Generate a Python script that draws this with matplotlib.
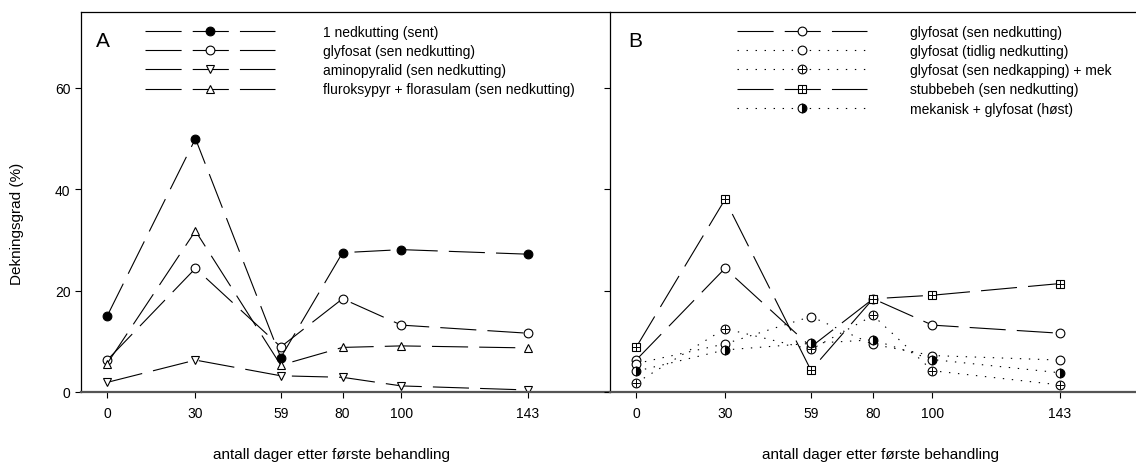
import numpy as np
import matplotlib
matplotlib.use("Agg")
import matplotlib.pyplot as plt
from matplotlib.legend_handler import HandlerTuple

plt.rcParams['font.family'] = ['Liberation Sans', 'DejaVu Sans']
plt.rcParams['lines.scale_dashes'] = False

# days after first treatment
days = [0, 30, 59, 80, 100, 143]
day_labels = ['0', '30', '59', '80', '100', '143']

# panel A
nedkutting_sent = [15.0, 50.0, 6.8, 27.5, 28.1, 27.2]
glyfosat_sen = [6.3, 24.4, 8.9, 18.4, 13.2, 11.6]
aminopyralid = [1.9, 6.3, 3.2, 2.9, 1.2, 0.4]
fluroksypyr = [5.6, 31.8, 5.3, 8.8, 9.1, 8.7]

# panel B
glyfosat_tidlig = [5.6, 9.5, 14.9, 9.4, 7.2, 6.3]
glyfosat_mek = [1.8, 12.5, 8.4, 15.1, 4.2, 1.4]
stubbebeh = [8.8, 38.0, 4.3, 18.4, 19.1, 21.4]
mekanisk_host = [4.1, 8.3, 9.6, 10.3, 6.4, 3.8]

labels_a = ['1 nedkutting (sent)', 'glyfosat (sen nedkutting)',
            'aminopyralid (sen nedkutting)',
            'fluroksypyr + florasulam (sen nedkutting)']
labels_b = ['glyfosat (sen nedkutting)', 'glyfosat (tidlig nedkutting)',
            'glyfosat (sen nedkapping) + mek', 'stubbebeh (sen nedkutting)',
            'mekanisk + glyfosat (høst)']

W, H = 1136, 464
fig = plt.figure(figsize=(W / 100, H / 100), dpi=100)

ax_a = fig.add_axes([81 / W, 1 - 393 / H, 529 / W, 380 / H])
ax_b = fig.add_axes([610 / W, 1 - 393 / H, 526 / W, 380 / H])

dash = (0, (26, 8))
dots = (0, (1, 5.5))
lw = 0.8
ms = 6.3


def style_axes(ax, xlim):
    ax.set_xlim(*xlim)
    ax.set_ylim(0, 75)
    ax.set_xticks(days)
    ax.set_xticklabels(day_labels)
    ax.set_yticks([0, 20, 40, 60])
    ax.tick_params(direction='out', length=4, width=0.8, labelsize=10)
    ax.tick_params(axis='x', pad=6)
    ax.spines['bottom'].set_color('#555555')
    ax.spines['bottom'].set_linewidth(1.6)
    for s in ['left', 'top', 'right']:
        ax.spines[s].set_linewidth(0.9)
    ax.set_xlabel('antall dager etter første behandling', fontsize=11)
    ax.patch.set_alpha(0)


#########################################
# Panel A
#########################################
a1, = ax_a.plot(days, nedkutting_sent, linestyle=dash, color='black', lw=lw,
                marker='o', ms=ms, mfc='black', mec='black', mew=0.8)
a2, = ax_a.plot(days, glyfosat_sen, linestyle=dash, color='black', lw=lw,
                marker='o', ms=ms, mfc='white', mec='black', mew=0.8)
a3, = ax_a.plot(days, aminopyralid, linestyle=dash, color='black', lw=lw,
                marker='v', ms=ms, mfc='white', mec='black', mew=0.8)
a4, = ax_a.plot(days, fluroksypyr, linestyle=dash, color='black', lw=lw,
                marker='^', ms=ms, mfc='white', mec='black', mew=0.8)

style_axes(ax_a, (-8.9, 170.9))
ax_a.spines['right'].set_visible(False)
ax_a.set_ylabel('Dekningsgrad (%)', fontsize=11)
ax_a.yaxis.set_label_coords(-0.108, 0.446)
ax_a.xaxis.set_label_coords(0.473, -0.146)

ax_a.legend([a1, a2, a3, a4], labels_a, loc='upper left',
            bbox_to_anchor=(145 / W, 1 - 26 / H), bbox_transform=fig.transFigure,
            frameon=False, fontsize=10, handlelength=9.35, handletextpad=3.45,
            labelspacing=0.37, borderpad=0, borderaxespad=0, numpoints=1)

#########################################
# Panel B
#########################################
b1, = ax_b.plot(days, glyfosat_sen, linestyle=dash, color='black', lw=lw,
                marker='o', ms=ms, mfc='white', mec='black', mew=0.8)
b2, = ax_b.plot(days, glyfosat_tidlig, linestyle=dots, color='black', lw=lw,
                marker='o', ms=ms, mfc='white', mec='black', mew=0.8)
b3, = ax_b.plot(days, glyfosat_mek, linestyle=dots, color='black', lw=lw,
                marker='o', ms=ms, mfc='white', mec='black', mew=0.8)
b3p, = ax_b.plot(days, glyfosat_mek, linestyle='none', marker='+', ms=ms,
                 mec='black', mew=0.7)
b4, = ax_b.plot(days, stubbebeh, linestyle=dash, color='black', lw=lw,
                marker='s', ms=ms - 0.6, mfc='white', mec='black', mew=0.8)
b4p, = ax_b.plot(days, stubbebeh, linestyle='none', marker='+', ms=ms - 0.6,
                 mec='black', mew=0.7)
b5, = ax_b.plot(days, mekanisk_host, linestyle=dots, color='black', lw=lw,
                marker='o', ms=ms, fillstyle='right', mfc='black',
                markerfacecoloralt='white', mec='black', mew=0.8)

style_axes(ax_b, (-8.8, 168.7))
ax_b.spines['right'].set_visible(False)
ax_b.tick_params(axis='y', labelleft=False)
ax_b.xaxis.set_label_coords(0.515, -0.146)

ax_b.legend([b1, b2, (b3, b3p), (b4, b4p), b5], labels_b, loc='upper left',
            bbox_to_anchor=(737 / W, 1 - 26 / H), bbox_transform=fig.transFigure,
            frameon=False, fontsize=10, handlelength=9.35, handletextpad=3.1,
            labelspacing=0.37, borderpad=0, borderaxespad=0, numpoints=1,
            handler_map={tuple: HandlerTuple(ndivide=1, pad=0)})

fig.text(96 / W, 1 - 47 / H, 'A', fontsize=15, va='baseline')
fig.text(628 / W, 1 - 47 / H, 'B', fontsize=15, va='baseline')

fig.savefig('out.png', dpi=100)
